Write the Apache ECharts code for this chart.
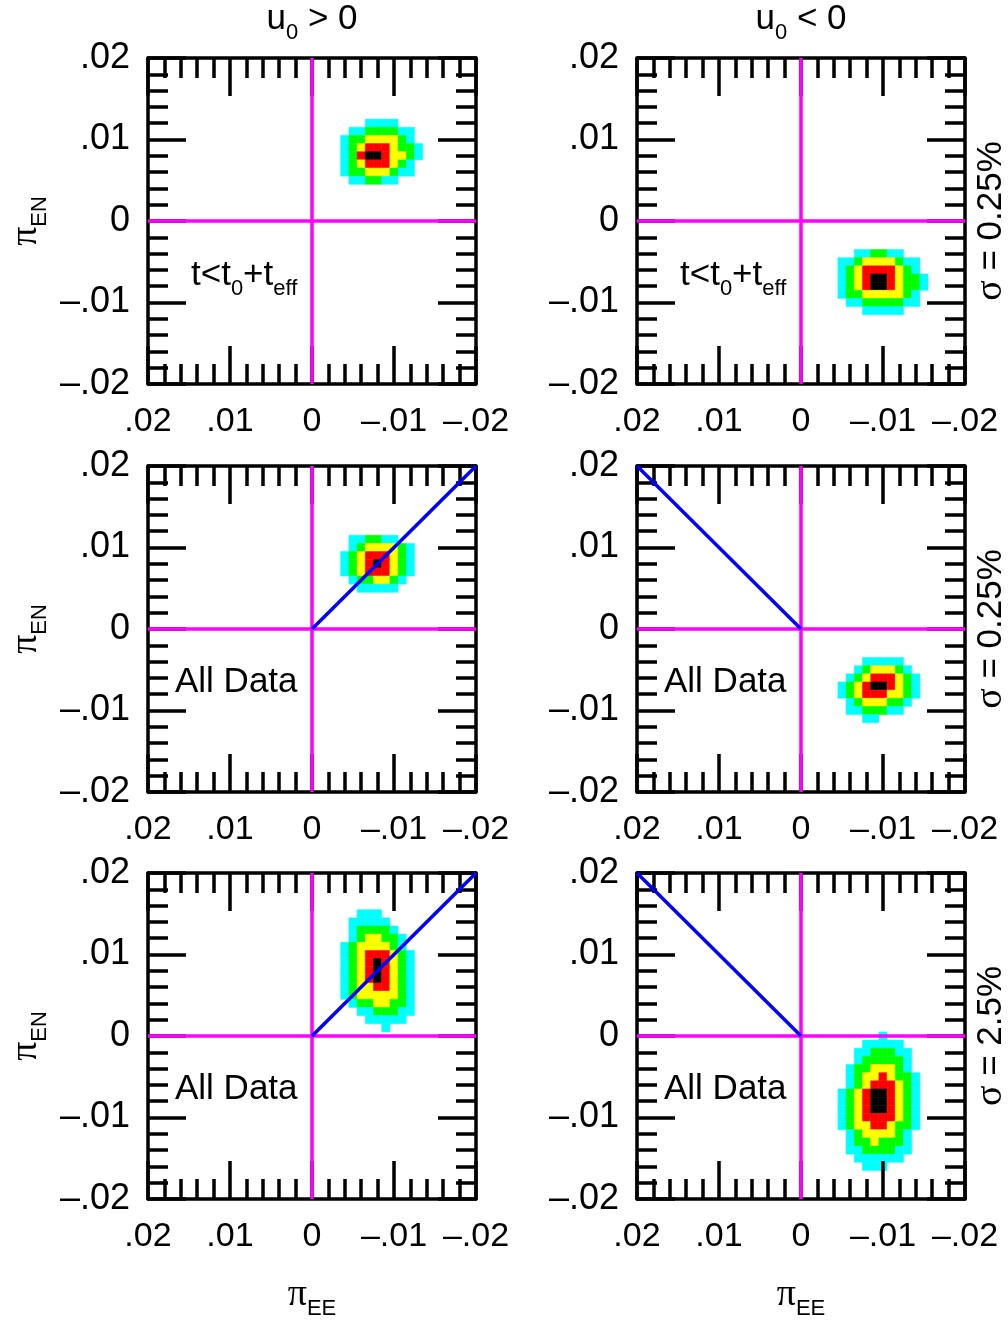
<!DOCTYPE html>
<html><head><meta charset="utf-8">
<script src="https://cdn.jsdelivr.net/npm/echarts@6/dist/echarts.min.js"></script>
<style>html,body{margin:0;padding:0;background:#fff}#c{width:1008px;height:1320px}</style>
</head><body><div id="c"></div>
<script>
// ---------- data ----------
const cellStep = 0.001;
const levelColors = ['#00ffff', '#00ff00', '#ffff00', '#ff0000', '#000000'];
const tickValues = [-0.02, -0.01, 0, 0.01, 0.02];
const tickLabels = ['–.02', '–.01', '0', '.01', '.02'];
const colTitles = ['{m|u}{s|0}{m| > 0}', '{m|u}{s|0}{m| < 0}'];
const rowSigmas = ['σ = 0.25%', 'σ = 0.25%', 'σ = 2.5%'];
const panelNotes = ['{m|t<t}{s|0}{m|+t}{s|eff}', '{m|t<t}{s|0}{m|+t}{s|eff}',
  '{m|All Data}', '{m|All Data}', '{m|All Data}', '{m|All Data}'];
const vLine = [[0, -0.02], [0, 0.02]];
const hLine = [[-0.02, 0], [0.02, 0]];
const diagLeftCol = [[0, 0], [-0.02, 0.02]];
const diagRightCol = [[0, 0], [0.02, 0.02]];
const panelDiag = [null, null, diagLeftCol, diagRightCol, diagLeftCol, diagRightCol];

// blob grids: levels 1..5 (cyan, green, yellow, red, black); start = [x of leftmost cell centre, y of top row centre]
const blob1Start = [-0.004, 0.012];
const blob1Rows = [
  '0001111000',
  '0112222110',
  '1223333210',
  '1234443221',
  '1245543321',
  '1234443210',
  '1223332110',
  '0112211000'];
const blob2Start = [-0.005, -0.004];
const blob2Rows = [
  '00112211000',
  '11233332110',
  '12344443210',
  '12345543221',
  '12345543221',
  '12233333210',
  '01122222110',
  '00011111000'];
const blob3Start = [-0.004, 0.011];
const blob3Rows = [
  '011221100',
  '012333321',
  '123444321',
  '123454321',
  '123444321',
  '012233210',
  '001111100'];
const blob4Start = [-0.005, -0.004];
const blob4Rows = [
  '0001111100',
  '0012333210',
  '0123444321',
  '1234554321',
  '1234443321',
  '0123332210',
  '0112221100',
  '0001100000'];
const blob5Start = [-0.004, 0.015];
const blob5Rows = [
  '001110000',
  '011111000',
  '012222100',
  '012332210',
  '123333210',
  '123444321',
  '123454321',
  '123454321',
  '123454321',
  '123344321',
  '123333321',
  '012233221',
  '001122211',
  '000111110',
  '000001000'];
const blob6Start = [-0.005, 0.0];
const blob6Rows = [
  '0000010000',
  '0001111100',
  '0011222110',
  '0012222210',
  '0122333210',
  '0123343221',
  '0123444321',
  '1234554321',
  '1234554321',
  '1234554321',
  '1234444321',
  '1233443221',
  '0123333210',
  '0122322210',
  '0112222110',
  '0011111100',
  '0001110000'];

const blobStarts = [blob1Start, blob2Start, blob3Start, blob4Start, blob5Start, blob6Start];
const blobRows = [blob1Rows, blob2Rows, blob3Rows, blob4Rows, blob5Rows, blob6Rows];

// ---------- build ----------
function blobData(start, rows) {
  const out = [];
  rows.forEach((row, r) => {
    for (let c = 0; c < row.length; c++) {
      const lvl = +row[c];
      if (lvl > 0) out.push([+(start[0] - c * cellStep).toFixed(4), +(start[1] - r * cellStep).toFixed(4), lvl]);
    }
  });
  return out;
}

const FONT = '"Liberation Sans", Arial, Helvetica, sans-serif';
const SERIF = '"Liberation Serif", "Times New Roman", serif';
const gridLefts = [148, 637];
const gridTops = [58, 466, 873];
const GW = 328, GH = 326;
const LW = 3.5;

const fmt = v => {
  const k = tickValues.findIndex(t => Math.abs(t - v) < 1e-9);
  return k >= 0 ? tickLabels[k] : '';
};

function axisCommon(p, showLabel, isX, pos) {
  return {
    type: 'value', gridIndex: p, position: pos,
    min: -0.02, max: 0.02, interval: 0.01, inverse: isX, z: 10,
    axisLine: { show: true, onZero: false, lineStyle: { color: '#000', width: LW } },
    axisTick: { show: true, inside: true, length: 38, lineStyle: { color: '#000', width: LW } },
    minorTick: { show: true, splitNumber: 5, length: 20, lineStyle: { color: '#000', width: LW } },
    splitLine: { show: false }, minorSplitLine: { show: false },
    axisLabel: {
      show: showLabel, margin: isX ? 21 : 18, fontSize: isX ? 34 : 36, color: '#000', fontFamily: FONT,
      padding: isX ? 0 : [5, 0, 0, 0],
      showMinLabel: true, showMaxLabel: true, formatter: fmt
    }
  };
}

const grids = [], xAxes = [], yAxes = [], series = [], graphics = [];
const richMain = {
  m: { fontSize: 35, fontFamily: FONT, fill: '#000', color: '#000', lineHeight: 50, verticalAlign: 'middle' },
  s: { fontSize: 22, fontFamily: FONT, fill: '#000', color: '#000', lineHeight: 26, verticalAlign: 'bottom' },
  g: { fontSize: 38, fontFamily: SERIF, fill: '#000', color: '#000', lineHeight: 50, verticalAlign: 'middle' }
};

for (let p = 0; p < 6; p++) {
  const r = Math.floor(p / 2), c = p % 2;
  grids.push({ left: gridLefts[c], top: gridTops[r], width: GW, height: GH, containLabel: false });
  xAxes.push(axisCommon(p, true, true, 'bottom'));
  xAxes.push(axisCommon(p, false, true, 'top'));
  yAxes.push(axisCommon(p, true, false, 'left'));
  yAxes.push(axisCommon(p, false, false, 'right'));
  const xi = 2 * p, yi = 2 * p;
  series.push({
    type: 'custom', xAxisIndex: xi, yAxisIndex: yi, z: 2, silent: true,
    data: blobData(blobStarts[p], blobRows[p]),
    encode: { x: 0, y: 1 },
    renderItem: (params, api) => {
      const x = api.value(0), y = api.value(1), lvl = api.value(2);
      const h = cellStep / 2;
      const a = api.coord([x - h, y + h]);
      const b = api.coord([x + h, y - h]);
      const col = levelColors[lvl - 1];
      return {
        type: 'rect',
        shape: { x: Math.min(a[0], b[0]), y: Math.min(a[1], b[1]), width: Math.abs(b[0] - a[0]), height: Math.abs(b[1] - a[1]) },
        style: { fill: col, stroke: col, lineWidth: 0.5 }
      };
    }
  });
  const lineSeries = (data, color) => ({
    type: 'line', xAxisIndex: xi, yAxisIndex: yi, data, symbol: 'none', showSymbol: false,
    silent: true, z: 12, lineStyle: { color, width: LW }
  });
  series.push(lineSeries(vLine, '#ff00ff'));
  series.push(lineSeries(hLine, '#ff00ff'));
  if (panelDiag[p]) series.push(lineSeries(panelDiag[p], '#0000ff'));

  // panel note
  const isT = p < 2;
  graphics.push({
    type: 'text', x: gridLefts[c] + (isT ? 43 : 27), y: gridTops[r] + (isT ? 217 : 216),
    style: { text: panelNotes[p], rich: richMain, align: 'left', verticalAlign: 'middle' }, z: 20
  });
}

// column titles and x names
for (let c = 0; c < 2; c++) {
  const cx = gridLefts[c] + GW / 2;
  graphics.push({ type: 'text', x: cx, y: 19, style: { text: colTitles[c], rich: richMain, align: 'center', verticalAlign: 'middle' } });
  graphics.push({ type: 'text', x: cx, y: 1295, style: { text: '{g|π}{s|EE}', rich: richMain, align: 'center', verticalAlign: 'middle' } });
}
// row names
for (let r = 0; r < 3; r++) {
  const cy = gridTops[r] + GH / 2;
  graphics.push({ type: 'text', x: 26, y: cy, rotation: Math.PI / 2,
    style: { text: '{g|π}{s|EN}', rich: richMain, align: 'center', verticalAlign: 'middle' } });
  graphics.push({ type: 'text', x: 991, y: cy, rotation: Math.PI / 2,
    style: { text: '{g|' + rowSigmas[r].slice(0, 1) + '}{m|' + rowSigmas[r].slice(1) + '}', rich: richMain, align: 'center', verticalAlign: 'middle' } });
}

const chart = echarts.init(document.getElementById('c'), null, { renderer: 'canvas' });
chart.setOption({
  animation: false,
  backgroundColor: '#fff',
  grid: grids, xAxis: xAxes, yAxis: yAxes, series, graphic: graphics
});
</script></body></html>
